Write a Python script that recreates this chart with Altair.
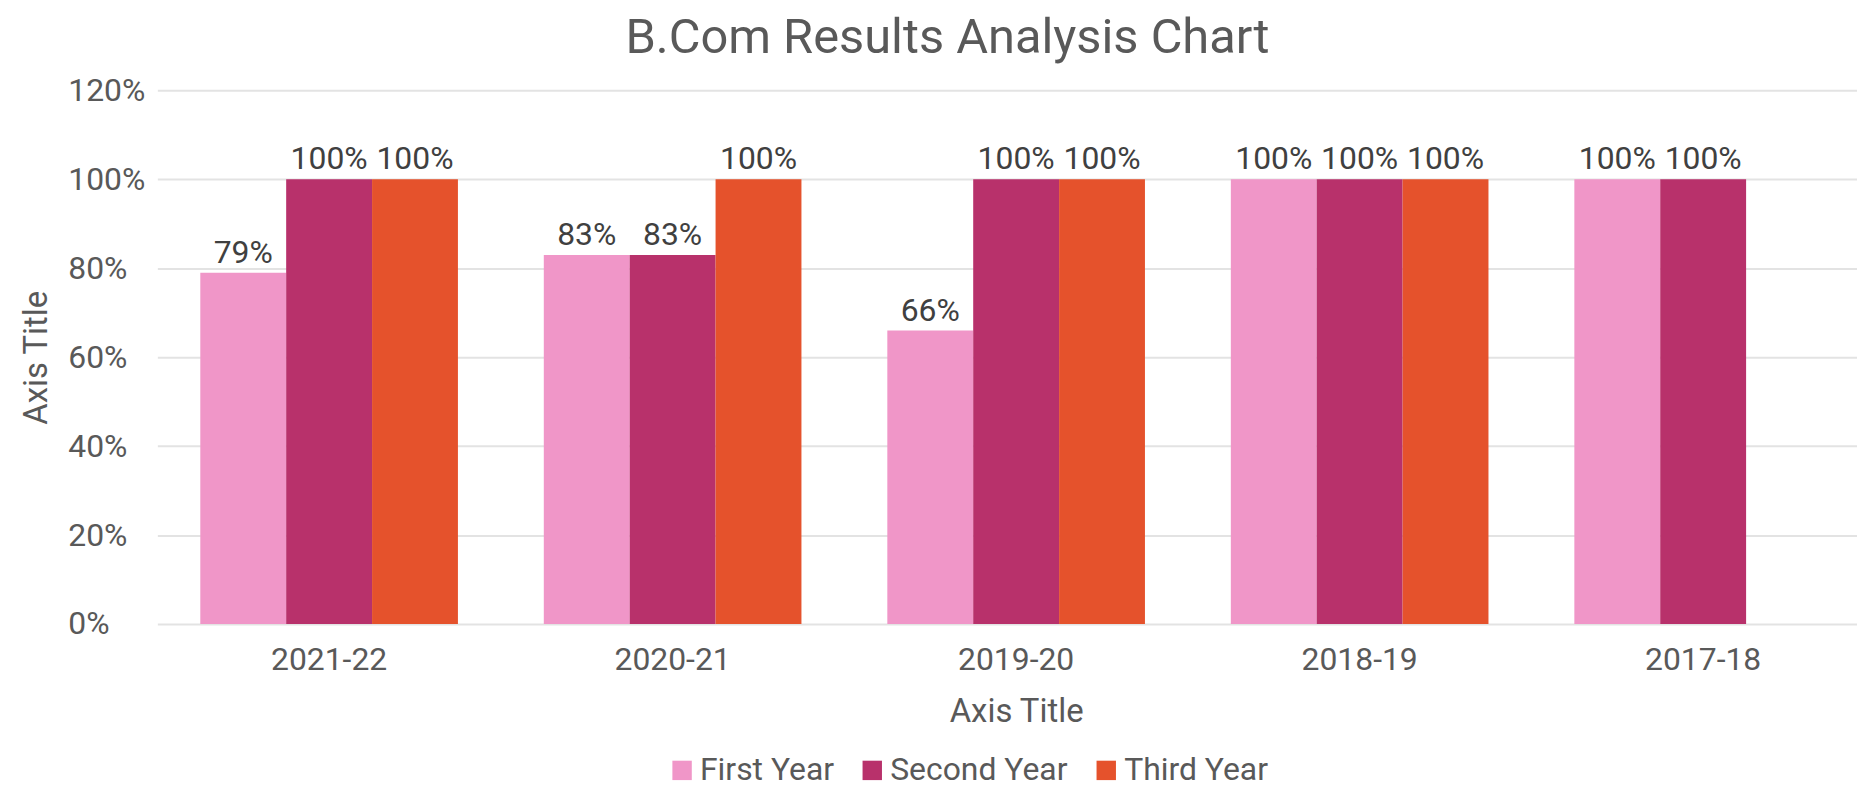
import altair as alt
import pandas as pd

years = ["2021-22", "2020-21", "2019-20", "2018-19", "2017-18"]
series = ["First Year", "Second Year", "Third Year"]
first_year = [0.79, 0.83, 0.66, 1.00, 1.00]
second_year = [1.00, 0.83, 1.00, 1.00, 1.00]
third_year = [1.00, 1.00, 1.00, 1.00, None]
colors = ["#F096C8", "#B8316B", "#E5522C"]
y_ticks = [0, 0.2, 0.4, 0.6, 0.8, 1.0, 1.2]

rows = []
for s, vals in zip(series, [first_year, second_year, third_year]):
    for yr, v in zip(years, vals):
        if v is not None:
            rows.append({"Year": yr, "Series": s, "Value": v,
                         "Label": f"{round(v * 100)}%"})
df = pd.DataFrame(rows)

FONT = "Roboto"
GRAY = "#595959"

x_enc = alt.X(
    "Year:N", sort=years,
    scale=alt.Scale(range=[0, 1725], paddingInner=0.25, paddingOuter=0.125),
    axis=alt.Axis(title="Axis Title", labelAngle=0, labelFont=FONT, labelFontSize=32,
                  labelColor=GRAY, labelPadding=21, ticks=False, tickSize=0, domain=False,
                  grid=False, titleFont=FONT, titleFontSize=33, titleColor=GRAY,
                  titleFontWeight="normal", titleBaseline="alphabetic", titleY=98),
)
xoff_enc = alt.XOffset("Series:N", sort=series,
                       scale=alt.Scale(paddingInner=0, paddingOuter=0))
y_enc = alt.Y(
    "Value:Q",
    scale=alt.Scale(domain=[0, 1.2], nice=False),
    axis=alt.Axis(title="Axis Title", values=y_ticks, format=".0%", labelFont=FONT,
                  labelFontSize=32, labelColor=GRAY, labelAlign="left", labelPadding=90,
                  ticks=False, tickSize=0, domain=False, gridColor="#e3e3e3", gridWidth=2,
                  titleFont=FONT, titleFontSize=33, titleColor=GRAY, titleFontWeight="normal",
                  titleBaseline="alphabetic", titleX=-111),
)

bars = alt.Chart(df).mark_bar().encode(
    x=x_enc,
    xOffset=xoff_enc,
    y=y_enc,
    color=alt.Color(
        "Series:N", sort=series,
        scale=alt.Scale(domain=series, range=colors),
        legend=alt.Legend(title=None, orient="none", direction="horizontal",
                          legendX=511, legendY=667, symbolType="square", symbolSize=380,
                          symbolStrokeWidth=0, labelFont=FONT, labelFontSize=32,
                          labelColor=GRAY, labelOffset=2, columnPadding=22, padding=0,
                          labelLimit=400),
    ),
)

labels = alt.Chart(df).mark_text(
    font=FONT, fontSize=32, color="#404040", baseline="alphabetic", dy=-10
).encode(
    x=alt.X("Year:N", sort=years),
    xOffset=alt.XOffset("Series:N", sort=series),
    y=alt.Y("Value:Q"),
    text="Label:N",
)

chart = alt.layer(bars, labels).properties(
    width=1707,
    height=536,
    autosize=alt.AutoSizeParams(type="none"),
    padding={"left": 150, "top": 81, "right": 0, "bottom": 166},
    title=alt.Title(text="B.Com Results Analysis Chart", font=FONT, fontSize=49,
                    color=GRAY, fontWeight="normal", anchor="middle", dx=-60,
                    baseline="alphabetic", offset=-27),
).configure_view(stroke=None)

chart.save("out.html", embed_options={"renderer": "svg", "actions": False})
